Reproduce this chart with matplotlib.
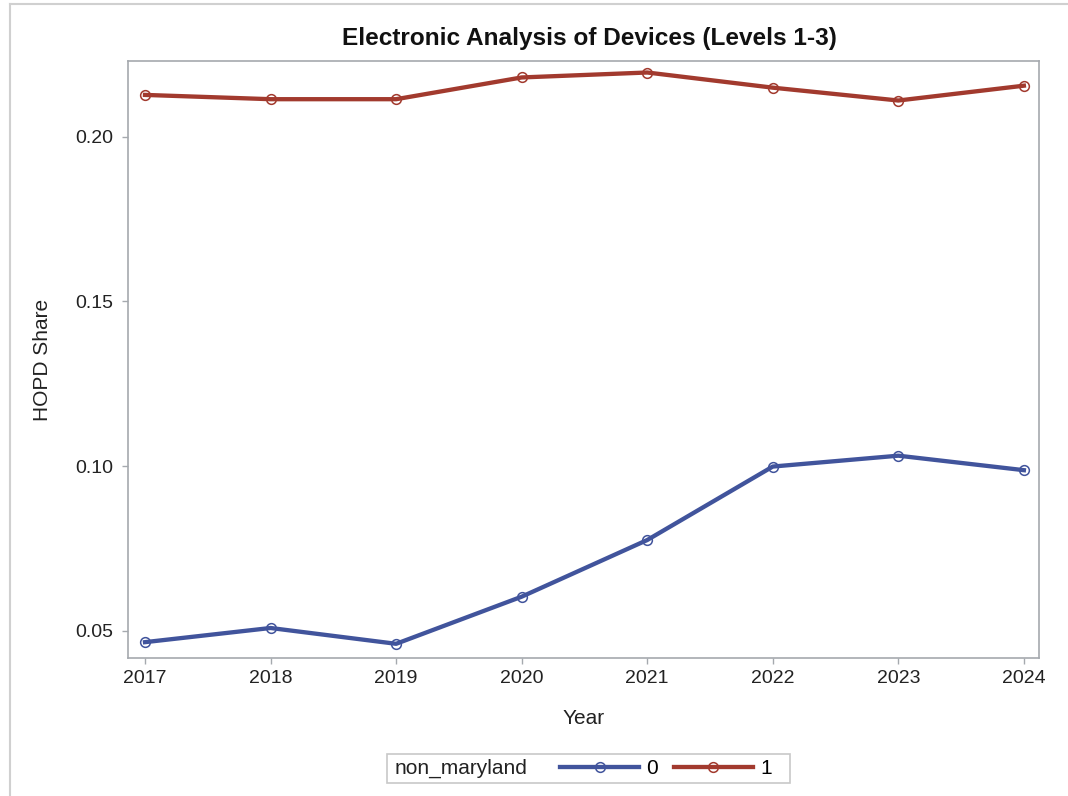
import matplotlib
matplotlib.use("Agg")
import matplotlib.pyplot as plt
from matplotlib.lines import Line2D
from matplotlib.patches import Rectangle

years = [2017, 2018, 2019, 2020, 2021, 2022, 2023, 2024]
share_0 = [0.0466, 0.0509, 0.0461, 0.0604, 0.0776, 0.0999, 0.1032, 0.0988]
share_1 = [0.2127, 0.2114, 0.2114, 0.2180, 0.2195, 0.2149, 0.2110, 0.2155]
yticks = [0.05, 0.10, 0.15, 0.20]

blue = '#41549C'
red = '#A23A2E'
gray = '#A5A9AE'

plt.rcParams['font.family'] = ['Liberation Sans', 'DejaVu Sans']

fig = plt.figure(figsize=(10.68, 7.96), dpi=100)
ax = fig.add_axes([0.1199, 0.1734, 0.8529, 0.7500])

# 두 그룹 선 그리기
ax.plot(years, share_0, color=blue, lw=3.1, marker='o', ms=7, mfc='none',
        mec=blue, mew=1.1, label='0')
ax.plot(years, share_1, color=red, lw=3.1, marker='o', ms=7, mfc='none',
        mec=red, mew=1.1, label='1')

ax.set_xlim(2016.865, 2024.12)
ax.set_ylim(0.0418, 0.2230)
ax.set_xticks(years)
ax.set_xticklabels([str(y) for y in years])
ax.set_yticks(yticks)
ax.set_yticklabels([f'{v:.2f}' for v in yticks])

for s in ax.spines.values():
    s.set_color(gray)
    s.set_linewidth(1.2)
ax.tick_params(direction='out', length=4, width=1, color=gray,
               labelsize=14, labelcolor='#222222')
ax.tick_params(axis='y', pad=7)
ax.tick_params(axis='x', pad=5)

ax.set_xlabel('Year', fontsize=15, color='#222222')
ax.xaxis.set_label_coords(0.5, -0.102)
ax.xaxis.label.set_va('center')
ax.set_ylabel('HOPD Share', fontsize=15, color='#222222')
ax.yaxis.set_label_coords(-0.0944, 0.5)
ax.yaxis.label.set_va('center')

fig.text(589 / 1068, 1 - 39 / 796, 'Electronic Analysis of Devices (Levels 1-3)',
         ha='center', va='center', fontsize=17.6, fontweight='bold', color='#111111')

# 범례 (SAS 스타일: 제목이 왼쪽에)
fig.patches.append(Rectangle((387 / 1068, 1 - 783 / 796), 403 / 1068, 29 / 796,
                             transform=fig.transFigure, fill=False,
                             edgecolor='#C8C8C8', lw=1.2))
fig.text(395 / 1068, 1 - 768.5 / 796, 'non_maryland', ha='left', va='center',
         fontsize=15, color='#222222')
handles = [Line2D([], [], color=blue, lw=3.1, marker='o', ms=7, mfc='none', mew=1.1),
           Line2D([], [], color=red, lw=3.1, marker='o', ms=7, mfc='none', mew=1.1)]
fig.legend(handles, ['0', '1'], loc='center left',
           bbox_to_anchor=(560 / 1068, 1 - 768.5 / 796), ncol=2, frameon=False,
           borderpad=0, borderaxespad=0, handlelength=3.8, handletextpad=0.35,
           columnspacing=0.75, fontsize=15, markerscale=1.0)

# 바깥 테두리 (위, 왼쪽)
fig.add_artist(Line2D([9.5 / 1068, 1], [1 - 4 / 796, 1 - 4 / 796],
                      transform=fig.transFigure, color='#D0D0D0', lw=1.5))
fig.add_artist(Line2D([9.5 / 1068, 9.5 / 1068], [0, 1 - 4 / 796],
                      transform=fig.transFigure, color='#D0D0D0', lw=1.5))

fig.savefig('out.png', dpi=100, facecolor='white')
